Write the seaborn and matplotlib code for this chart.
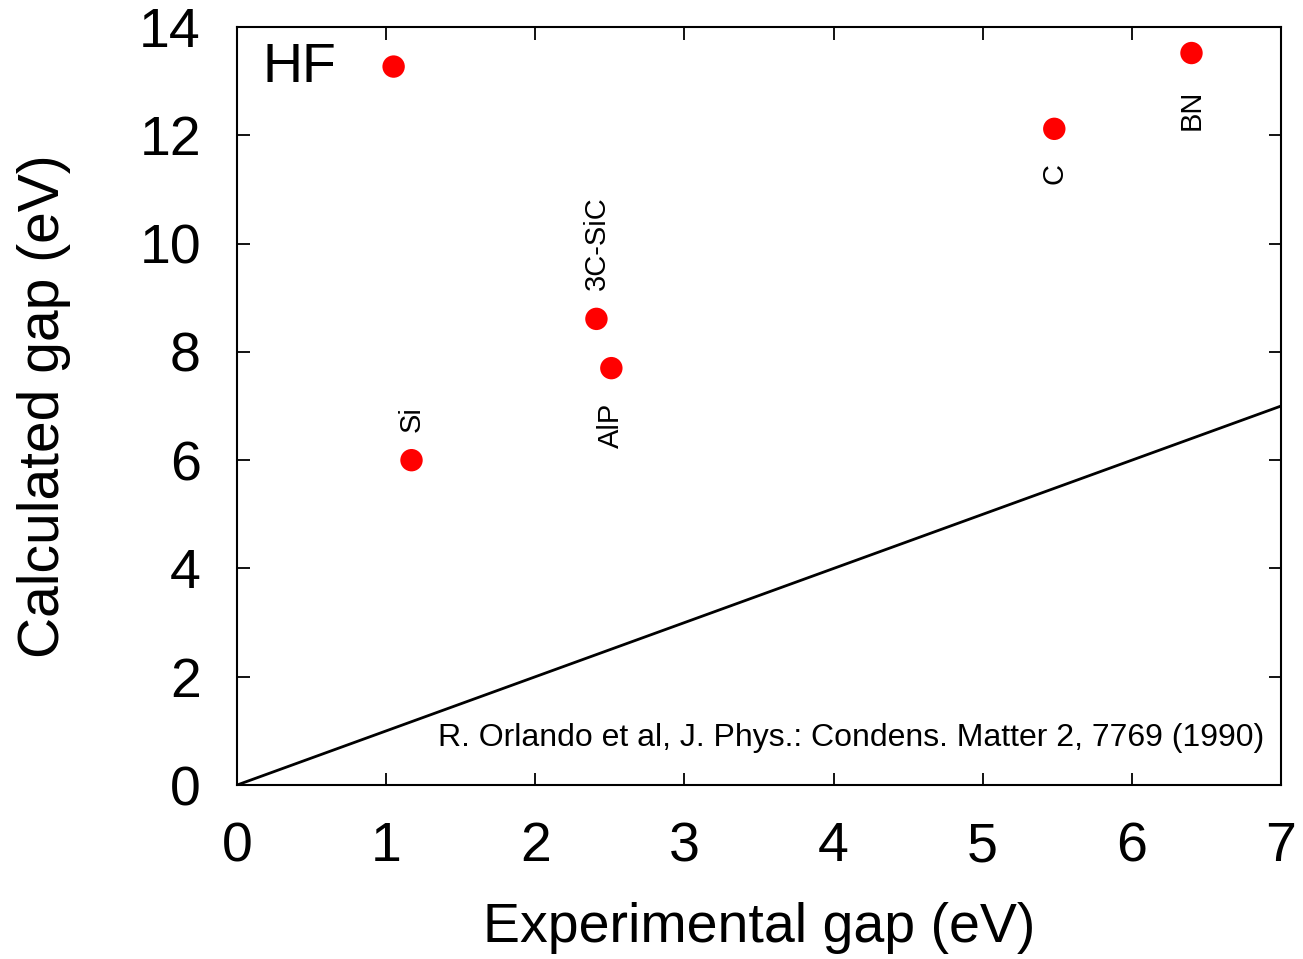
import matplotlib
matplotlib.use("Agg")
import matplotlib.pyplot as plt
import seaborn as sns
import pandas as pd

materials = ["", "Si", "3C-SiC", "AlP", "C", "BN"]
exp_gap = [1.05, 1.17, 2.41, 2.51, 5.48, 6.40]
hf_gap = [13.27, 6.00, 8.61, 7.70, 12.12, 13.52]
label_y = [None, 6.52, 9.14, 7.07, 11.49, 12.84]
label_va = [None, "bottom", "bottom", "top", "top", "top"]
diag_x = [0, 7]
diag_y = [0, 7]
xticks = [0, 1, 2, 3, 4, 5, 6, 7]
yticks = [0, 2, 4, 6, 8, 10, 12, 14]

sns.set_theme(style="white", rc={"text.color": "black", "axes.labelcolor": "black",
                                 "xtick.color": "black", "ytick.color": "black"})
plt.rcParams['font.family'] = ['Liberation Sans', 'DejaVu Sans']

fig = plt.figure(figsize=(13.03, 9.59), dpi=100)
ax = fig.add_axes([0.1819, 0.1814, 0.9831 - 0.1819, 0.9718 - 0.1814])

df = pd.DataFrame({"exp": exp_gap, "hf": hf_gap, "mat": materials})
line_df = pd.DataFrame({"x": diag_x, "y": diag_y})

sns.lineplot(data=line_df, x="x", y="y", ax=ax, color="black", linewidth=2.0)
sns.scatterplot(data=df, x="exp", y="hf", ax=ax, color="#ff0000", s=260,
                edgecolor="none", zorder=3)

for m, x, ly, va in zip(materials, exp_gap, label_y, label_va):
    if m:
        ax.text(x, ly, m, rotation=90, ha="center", va=va, fontsize=21, color="black")

ax.text(0.17, 13.25, "HF", fontsize=40, ha="left", va="center", color="black")
ax.text(6.89, 0.87, "R. Orlando et al, J. Phys.: Condens. Matter 2, 7769 (1990)",
        fontsize=23, ha="right", va="center", color="black")

ax.set_xlim(0, 7)
ax.set_ylim(0, 14)
ax.set_xticks(xticks)
ax.set_yticks(yticks)
ax.set_xlabel("Experimental gap (eV)", fontsize=40, labelpad=21, color="black")
ax.set_ylabel("Calculated gap (eV)", fontsize=41, labelpad=49, color="black")
ax.tick_params(direction="in", length=9, width=1.3, labelsize=40, pad=26,
               top=True, right=True, bottom=True, left=True, color="black",
               labelcolor="black")
for sp in ax.spines.values():
    sp.set_linewidth(1.5)
    sp.set_color("black")

fig.savefig("out.png", dpi=100)
